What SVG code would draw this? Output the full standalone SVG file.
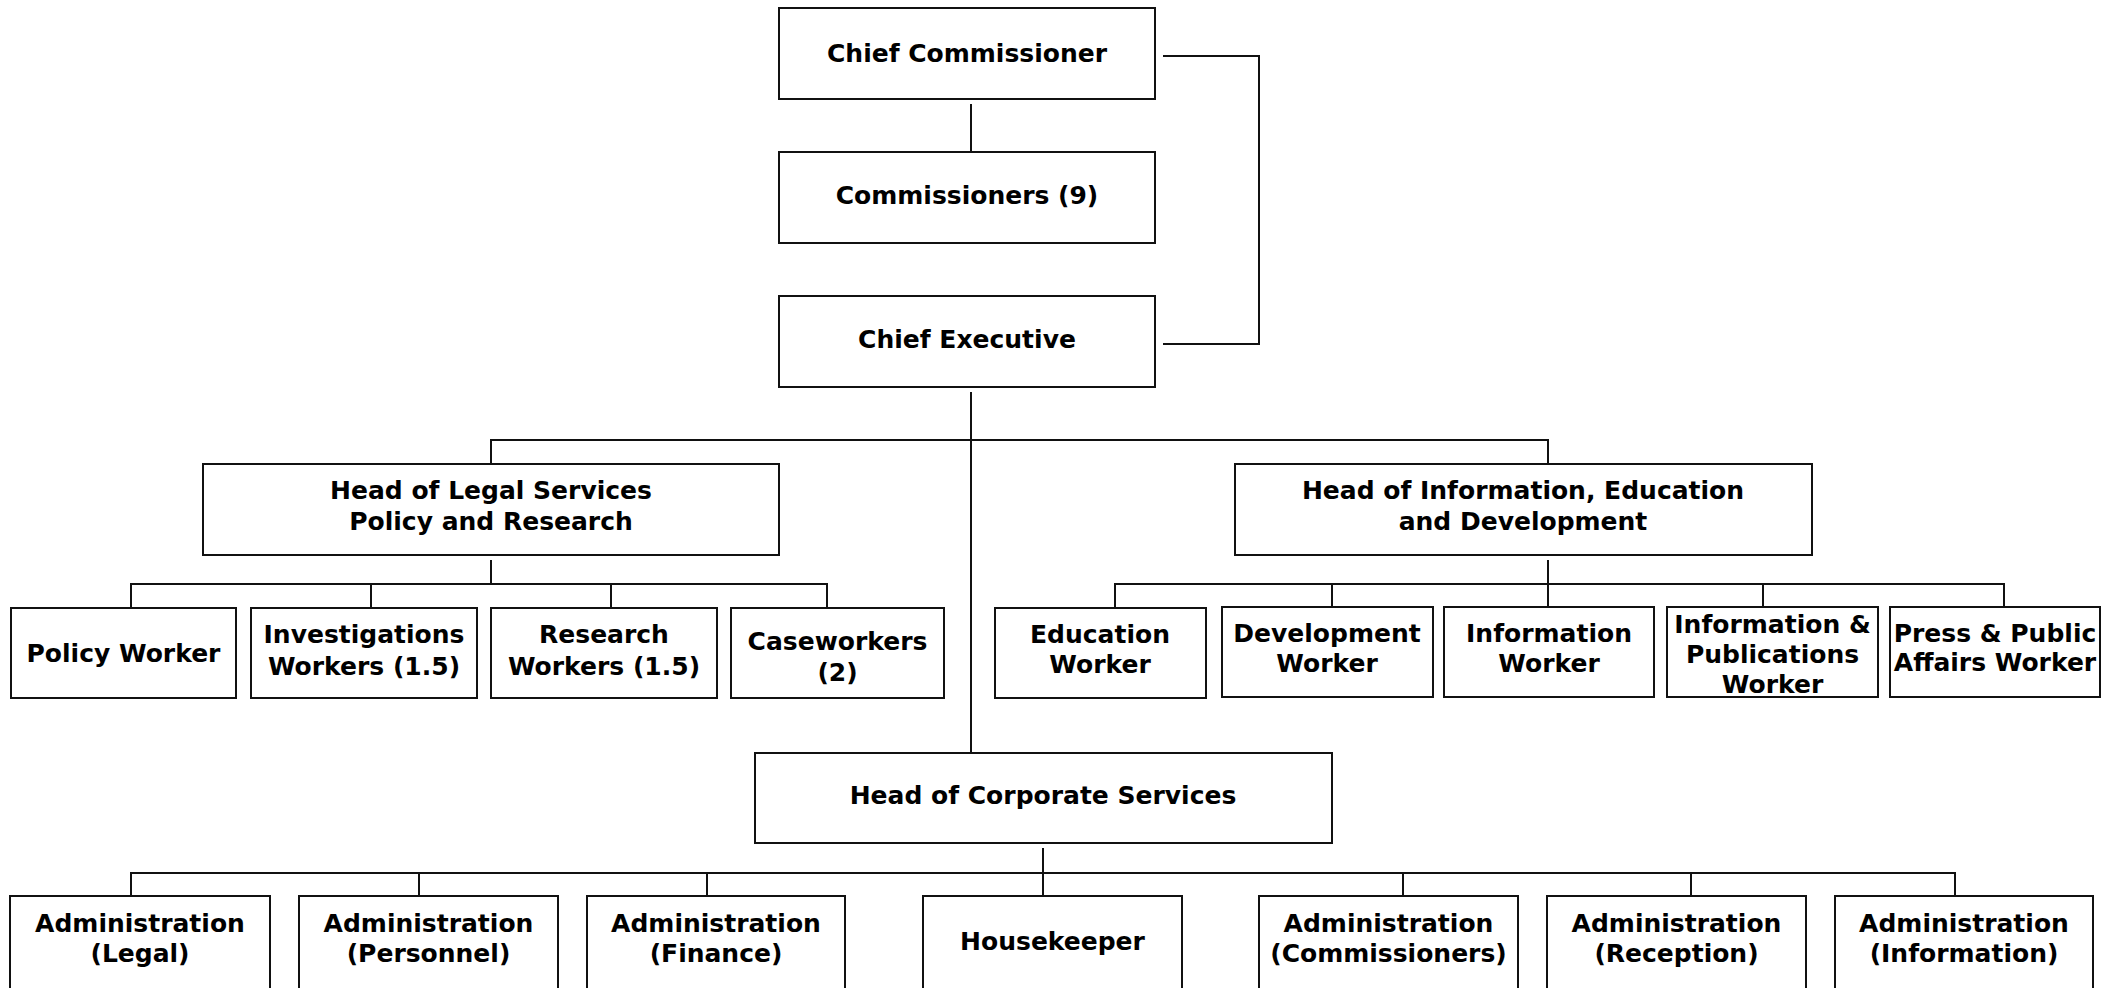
<svg xmlns="http://www.w3.org/2000/svg" width="2120" height="988" viewBox="0 0 2120 988">
<style>
.box{fill:#fff;stroke:#111;stroke-width:2}
.t{font-family:"DejaVu Sans",Verdana,sans-serif;font-weight:bold;font-size:25px;fill:#000;text-anchor:middle}
.c{fill:none;stroke:#111;stroke-width:2}
</style>
<rect width="2120" height="988" fill="#fff"/>
<g id="connectors">
<path class="c" d="M971 104V152"/>
<path class="c" d="M1163 56H1259V344H1163"/>
<path class="c" d="M971 392V753"/>
<path class="c" d="M491 464V440H1548V464"/>
<path class="c" d="M491 560V584"/>
<path class="c" d="M131 608V584H827V608M371 584V608M611 584V608"/>
<path class="c" d="M1548 560V608"/>
<path class="c" d="M1115 608V584H2004V607M1332 584V607M1763 584V607"/>
<path class="c" d="M1043 848V896"/>
<path class="c" d="M131 896V873H1955V896M419 873V896M707 873V896M1403 873V896M1691 873V896"/>
</g>
<g id="chief-commissioner"><rect class="box" x="779" y="8" width="376" height="91"/><text class="t" x="967" y="62">Chief Commissioner</text></g>
<g id="commissioners"><rect class="box" x="779" y="152" width="376" height="91"/><text class="t" x="967" y="204">Commissioners (9)</text></g>
<g id="chief-executive"><rect class="box" x="779" y="296" width="376" height="91"/><text class="t" x="967" y="348">Chief Executive</text></g>
<g id="head-legal"><rect class="box" x="203" y="464" width="576" height="91"/><text class="t" x="491" y="499">Head of Legal Services</text><text class="t" x="491" y="530">Policy and Research</text></g>
<g id="head-info"><rect class="box" x="1235" y="464" width="577" height="91"/><text class="t" x="1523" y="499">Head of Information, Education</text><text class="t" x="1523" y="530">and Development</text></g>
<g id="policy-worker"><rect class="box" x="11" y="608" width="225" height="90"/><text class="t" x="123.5" y="662">Policy Worker</text></g>
<g id="investigations"><rect class="box" x="251" y="608" width="226" height="90"/><text class="t" x="364" y="643">Investigations</text><text class="t" x="364" y="675">Workers (1.5)</text></g>
<g id="research"><rect class="box" x="491" y="608" width="226" height="90"/><text class="t" x="604" y="643">Research</text><text class="t" x="604" y="675">Workers (1.5)</text></g>
<g id="caseworkers"><rect class="box" x="731" y="608" width="213" height="90"/><text class="t" x="837.5" y="650">Caseworkers</text><text class="t" x="837.5" y="681">(2)</text></g>
<g id="education"><rect class="box" x="995" y="608" width="211" height="90"/><text class="t" x="1100" y="643">Education</text><text class="t" x="1100" y="673">Worker</text></g>
<g id="development"><rect class="box" x="1222" y="607" width="211" height="90"/><text class="t" x="1327" y="642">Development</text><text class="t" x="1327" y="672">Worker</text></g>
<g id="information"><rect class="box" x="1444" y="607" width="210" height="90"/><text class="t" x="1549" y="642">Information</text><text class="t" x="1549" y="672">Worker</text></g>
<g id="info-pub"><rect class="box" x="1667" y="607" width="211" height="90"/><text class="t" x="1772.5" y="633">Information &amp;</text><text class="t" x="1772.5" y="663">Publications</text><text class="t" x="1772.5" y="693">Worker</text></g>
<g id="press"><rect class="box" x="1890" y="607" width="210" height="90"/><text class="t" x="1995" y="642">Press &amp; Public</text><text class="t" x="1995" y="671">Affairs Worker</text></g>
<g id="head-corporate"><rect class="box" x="755" y="753" width="577" height="90"/><text class="t" x="1043" y="804">Head of Corporate Services</text></g>
<g id="admin-legal"><rect class="box" x="10" y="896" width="260" height="100"/><text class="t" x="140" y="932">Administration</text><text class="t" x="140" y="962">(Legal)</text></g>
<g id="admin-personnel"><rect class="box" x="299" y="896" width="259" height="100"/><text class="t" x="428.5" y="932">Administration</text><text class="t" x="428.5" y="962">(Personnel)</text></g>
<g id="admin-finance"><rect class="box" x="587" y="896" width="258" height="100"/><text class="t" x="716" y="932">Administration</text><text class="t" x="716" y="962">(Finance)</text></g>
<g id="housekeeper"><rect class="box" x="923" y="896" width="259" height="100"/><text class="t" x="1052.5" y="950">Housekeeper</text></g>
<g id="admin-commissioners"><rect class="box" x="1259" y="896" width="259" height="100"/><text class="t" x="1388.5" y="932">Administration</text><text class="t" x="1388.5" y="962">(Commissioners)</text></g>
<g id="admin-reception"><rect class="box" x="1547" y="896" width="259" height="100"/><text class="t" x="1676.5" y="932">Administration</text><text class="t" x="1676.5" y="962">(Reception)</text></g>
<g id="admin-information"><rect class="box" x="1835" y="896" width="258" height="100"/><text class="t" x="1964" y="932">Administration</text><text class="t" x="1964" y="962">(Information)</text></g>
</svg>
